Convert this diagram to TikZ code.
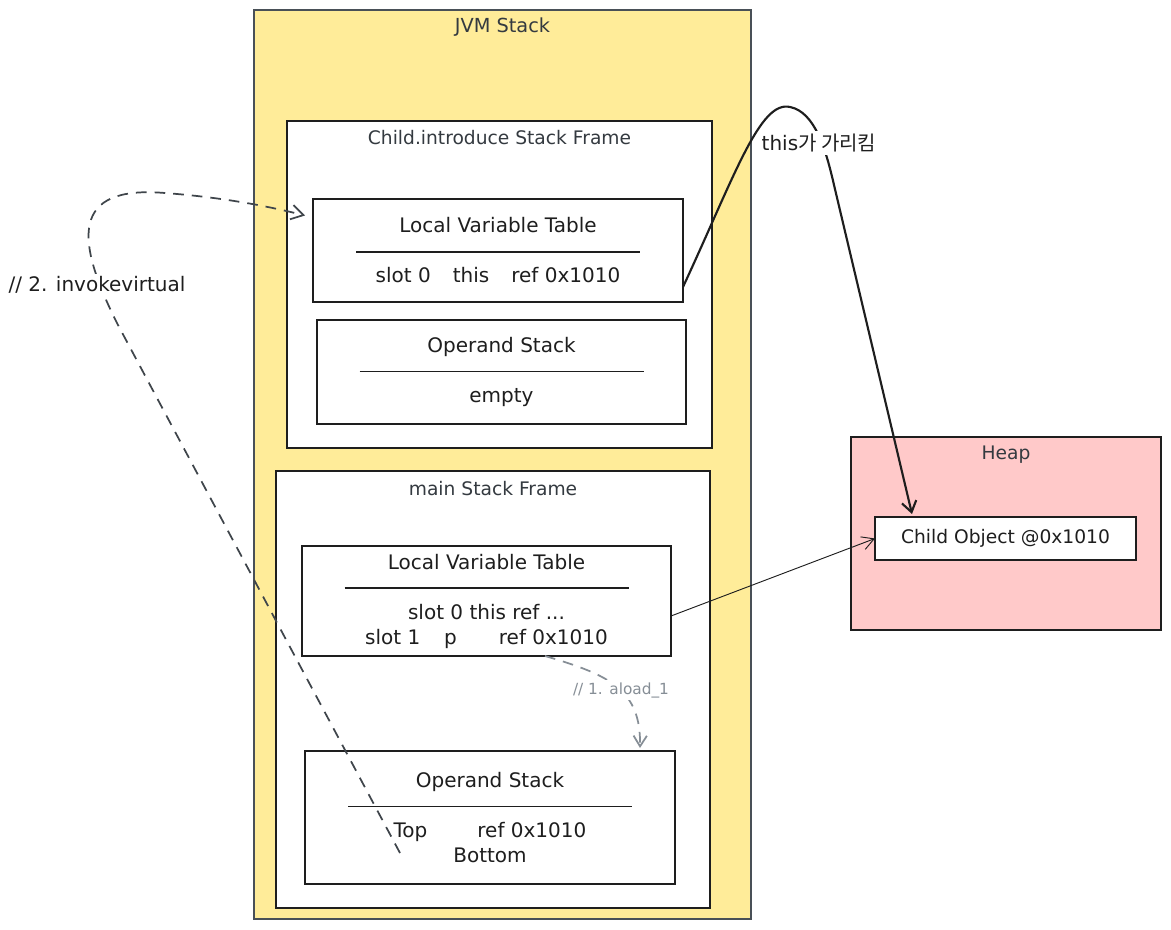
\documentclass[tikz,border=0pt]{standalone}
\usepackage{fontspec}
\setmainfont{DejaVu Sans}
\newfontfamily\kr{Noto Sans CJK KR}
\usetikzlibrary{arrows.meta,calc}
\definecolor{ink}{HTML}{1E1E1E}
\definecolor{stackyellow}{HTML}{FFEC99}
\definecolor{heapred}{HTML}{FFC9C9}
\definecolor{frameborder}{HTML}{495057}
\definecolor{graydash}{HTML}{868E96}
\definecolor{darkdash}{HTML}{3F454B}
\definecolor{titleink}{HTML}{343A40}
\begin{document}
\begin{tikzpicture}[x=0.75pt,y=-0.75pt,
  sz/.style 2 args={minimum width={#1*0.75pt},minimum height={#2*0.75pt},inner sep=0pt,outer sep=0pt},
  txt/.style={font=\fontsize{14}{18.75}\selectfont,text=ink},
  region/.style={draw=frameborder,line width=1pt,rectangle},
  framebox/.style={draw=ink,fill=white,line width=1.5pt,rectangle},
  tbl/.style={framebox,txt,font=\fontsize{15}{18.75}\selectfont,align=center},
  titletext/.style={txt,text=titleink},
  ptr/.style={draw=ink,line width=1.6pt,-{Straight Barb[length=8pt,width=11pt,line width=1.6pt]}},
  thinptr/.style={draw=ink,line width=0.7pt,-{Straight Barb[length=9pt,width=10pt,line width=0.7pt]}},
  stepflow/.style={draw=graydash,line width=1.3pt,dash pattern=on 8pt off 6pt,-{Straight Barb[length=8pt,width=10pt,line width=1.3pt]}},
  callflow/.style={draw=darkdash,line width=1.3pt,dash pattern=on 8pt off 6pt,-{Straight Barb[length=9pt,width=11pt,line width=1.3pt]}},
  tag/.style={txt,fill=white,inner sep=2pt}
]
\useasboundingbox (0,0) rectangle (1171,930);

% JVM stack region
\node[region,fill=stackyellow,sz={497}{909}] (jvm) at (502.5,464.5) {};
\node[titletext,font=\fontsize{14.5}{18}\selectfont] at ($(jvm.north)+(0,17)$) {JVM Stack};

% Child.introduce frame
\node[framebox,sz={425}{327}] (f1) at (499.5,284.5) {};
\node[titletext] at ($(f1.north)+(0,17)$) {Child.introduce Stack Frame};
\node[tbl,sz={370}{103}] (lvt1) at (498,250.5) {Local Variable Table\\\rule[4pt]{213pt}{1pt}\\slot 0\hspace{1.1em}this\hspace{1.1em}ref 0x1010};
\node[tbl,sz={369}{104}] (os1) at (501.5,372) {Operand Stack\\\rule[4pt]{213pt}{1pt}\\empty};

% main frame
\node[framebox,sz={434}{437}] (f2) at (493,689.5) {};
\node[titletext] at ($(f2.north)+(0,18)$) {main Stack Frame};
\node[tbl,sz={369}{110}] (lvt2) at (486.5,601) {Local Variable Table\\\rule[4pt]{213pt}{1pt}\\slot 0 this ref ...\\slot 1\hspace{1.2em}p\hspace{2.1em}ref 0x1010};
\node[tbl,sz={370}{133}] (os2) at (490,817.5) {Operand Stack\\\rule[4pt]{213pt}{1pt}\\Top\hspace{2.5em}ref 0x1010\\Bottom};

% Heap
\node[framebox,fill=heapred,sz={310}{193}] (heap) at (1006,533.5) {};
\node[titletext] at ($(heap.north)+(0,18)$) {Heap};
\node[tbl,font=\fontsize{14}{18}\selectfont,sz={261}{43}] (obj) at (1005.5,538.5) {Child Object @0x1010};

% this pointer
\draw[ptr] ($(lvt1.east)+(0,36.5)$) .. controls (735,175) and (760,100) .. (790,107)
  .. controls (815,112) and (826,150) .. (834,185) -- ($(obj.north west)+(37,-3)$);
\node[tag,font=\fontsize{15}{18}\selectfont] (thislbl) at (819,143) {this{\kr 가 가리킴}};

% p reference
\draw[thinptr] ($(lvt2.east)+(0,15)$) -- (obj.west);

% 1. aload_1
\draw[stepflow] ($(lvt2.south)+(58.5,0)$) .. controls (610,675) and (641,690) .. ($(os2.north)+(150,-3)$);
\node[tag,text=graydash,font=\fontsize{11.5}{14}\selectfont] (aload) at (621,690) {// 1. aload\_1};

% 2. invokevirtual
\draw[callflow] ($(os2.center)+(-90,35.5)$) -- (118,325) .. controls (75,240) and (70,185) .. (165,193)
  .. controls (230,198) and (275,208) .. ($(lvt1.west)+(-8,-35)$);
\node[tag,font=\fontsize{15}{18}\selectfont] (invoke) at (97,285) {// 2. invokevirtual};
\end{tikzpicture}
\end{document}
